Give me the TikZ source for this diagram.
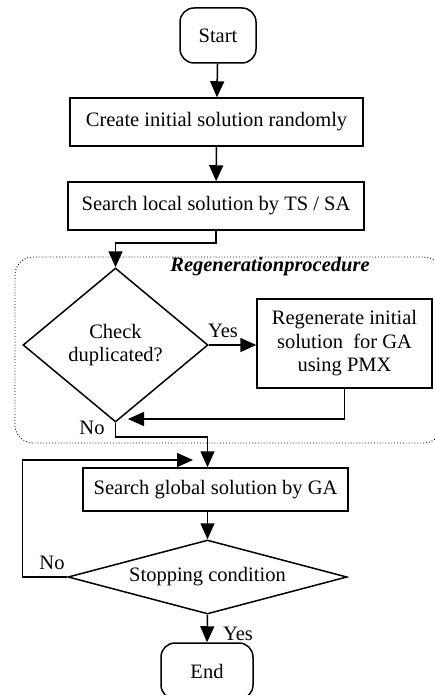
\documentclass[tikz,border=0pt]{standalone}
\usepackage{fontspec}
\setmainfont{Liberation Serif}
\usetikzlibrary{shapes.geometric}
\usetikzlibrary{arrows.meta}
\usetikzlibrary{calc}

\begin{document}
\begin{tikzpicture}[x=1pt,y=-1pt,line width=1.5pt,
    font=\fontsize{20.5}{23.5}\selectfont,
    box/.style={draw,rectangle,inner sep=0pt,align=center},
    term/.style={draw,rectangle,rounded corners=14pt,inner sep=0pt},
    cond/.style={draw,diamond,inner sep=0pt,align=center},
    flow/.style={-{Triangle[length=16pt,width=14pt]}}]
  \clip (0,0) rectangle (435,695);

  % regeneration part
  \draw[dotted,line width=0.9pt,rounded corners=18pt] (15,257) rectangle (442,443);
  \node (title) at (270,267) {\textbf{\textit{Regenerationprocedure}}};

  \node[term,minimum width=76pt,minimum height=55pt] (start) at (218,35.5) {Start};
  \node[box,minimum width=293pt,minimum height=48pt] (create) at (216.5,122) {Create initial solution randomly};
  \node[box,minimum width=296pt,minimum height=48pt] (local) at (216,206) {Search local solution by TS / SA};
  \node[cond,aspect=1.2,minimum width=185pt,minimum height=154pt] (chk) at (115.5,345) {Check\\duplicated?};
  \node[box,minimum width=175pt,minimum height=89pt] (reg) at (344.5,343.5) {Regenerate initial\\solution\ \ for GA\\using PMX};
  \node[box,minimum width=265pt,minimum height=43pt] (glob) at (215.5,489.5) {Search global solution by GA};
  \node[cond,aspect=3.77,minimum width=279pt,minimum height=74pt] (stop) at (207.5,577) {Stopping condition};
  \node[term,minimum width=92pt,minimum height=56pt] (end) at (207,671) {End};

  \coordinate (back) at (128,419);
  \coordinate (loop) at (193,460);

  \draw[flow] (start) -- (create);
  \draw[flow] (create) -- (local);
  \draw[flow] (local.south) -- ++(0,12) -| (chk.north);
  \draw[flow] (chk.east) -- (chk.east -| reg.west) node[pos=0.3,above=3pt] (yes1) {Yes};
  \draw[flow] (reg.south) |- (back);
  \draw[flow] (chk.south) -- ++(0,14) -| (stop.north |- glob.north);
  \node (no1) at (92,428) {No};
  \draw[flow] (stop.north |- glob.south) -- (stop.north);
  \draw[flow] (stop.west) -- ++(-45,0) |- (loop);
  \node (no2) at (52,563) {No};
  \draw[flow] (stop.south) -- (end.north);
  \node (yes2) at (238,634) {Yes};
\end{tikzpicture}
\end{document}
